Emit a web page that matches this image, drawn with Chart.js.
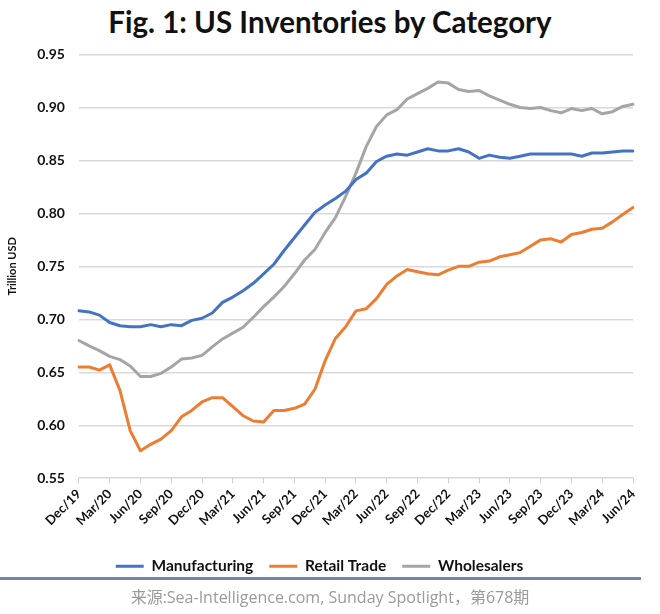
<!DOCTYPE html>
<html>
<head>
<meta charset="utf-8">
<script src="https://cdn.jsdelivr.net/npm/chart.js@4.4.1/dist/chart.umd.min.js"></script>
<style>
  body { margin: 0; background: #fff; width: 660px; height: 614px; overflow: hidden; position: relative; }
  .title { position: absolute; left: 0; top: 4px; width: 660px; text-align: center; color: #111;
           font: bold 29.5px/35.4px Lato, sans-serif; }
  .chart-container { position: absolute; left: 0; top: 0; width: 660px; height: 584px; }
  .rule { position: absolute; left: 0; top: 577px; width: 641px; height: 3px; background: #7188a0; }
  .source { position: absolute; left: 0; top: 584px; width: 660px; text-align: center;
            color: #9a9a9a; font: 16px "Open Sans", "Noto Sans CJK SC", sans-serif; }
</style>
</head>
<body>
<div class="title">Fig. 1: US Inventories by Category</div>
<div class="chart-container"><canvas id="chart"></canvas></div>
<div class="rule"></div>
<div class="source">来源:Sea-Intelligence.com, Sunday Spotlight，第678期</div>
<script>
// monthly, Dec/19 .. Jun/24 (trillion USD)
const months = [
  "Dec/19", "Jan/20", "Feb/20", "Mar/20", "Apr/20", "May/20", "Jun/20", "Jul/20", "Aug/20",
  "Sep/20", "Oct/20", "Nov/20", "Dec/20", "Jan/21", "Feb/21", "Mar/21", "Apr/21", "May/21",
  "Jun/21", "Jul/21", "Aug/21", "Sep/21", "Oct/21", "Nov/21", "Dec/21", "Jan/22", "Feb/22",
  "Mar/22", "Apr/22", "May/22", "Jun/22", "Jul/22", "Aug/22", "Sep/22", "Oct/22", "Nov/22",
  "Dec/22", "Jan/23", "Feb/23", "Mar/23", "Apr/23", "May/23", "Jun/23", "Jul/23", "Aug/23",
  "Sep/23", "Oct/23", "Nov/23", "Dec/23", "Jan/24", "Feb/24", "Mar/24", "Apr/24", "May/24",
  "Jun/24",
];

const manufacturing = [
  0.708, 0.707, 0.704, 0.697, 0.694, 0.693, 0.693, 0.695, 0.693, 0.695,
  0.694, 0.699, 0.701, 0.706, 0.716, 0.721, 0.727, 0.734, 0.743, 0.752,
  0.765, 0.777, 0.789, 0.801, 0.808, 0.814, 0.821, 0.832, 0.838, 0.849,
  0.854, 0.856, 0.855, 0.858, 0.861, 0.859, 0.859, 0.861, 0.858, 0.852,
  0.855, 0.853, 0.852, 0.854, 0.856, 0.856, 0.856, 0.856, 0.856, 0.854,
  0.857, 0.857, 0.858, 0.859, 0.859,
];

const retailTrade = [
  0.655, 0.655, 0.652, 0.657, 0.633, 0.595, 0.576, 0.582, 0.587, 0.595,
  0.608, 0.614, 0.622, 0.626, 0.626, 0.6175, 0.609, 0.604, 0.603, 0.614,
  0.614, 0.616, 0.620, 0.634, 0.661, 0.682, 0.693, 0.708, 0.710, 0.7195,
  0.733, 0.741, 0.747, 0.745, 0.743, 0.742, 0.7465, 0.750, 0.750, 0.754,
  0.755, 0.759, 0.761, 0.763, 0.769, 0.775, 0.776, 0.773, 0.780, 0.782,
  0.785, 0.786, 0.792, 0.799, 0.8055,
];

const wholesalers = [
  0.680, 0.675, 0.6705, 0.665, 0.662, 0.656, 0.646, 0.646, 0.649, 0.655,
  0.6625, 0.6635, 0.666, 0.674, 0.6815, 0.687, 0.6925, 0.702, 0.712, 0.721,
  0.731, 0.743, 0.756, 0.766, 0.782, 0.796, 0.816, 0.838, 0.863, 0.882,
  0.893, 0.898, 0.908, 0.913, 0.918, 0.924, 0.923, 0.917, 0.915, 0.916,
  0.911, 0.907, 0.903, 0.900, 0.899, 0.900, 0.897, 0.895, 0.899, 0.897,
  0.899, 0.894, 0.896, 0.901, 0.903,
];

const yTicks = [0.55, 0.60, 0.65, 0.70, 0.75, 0.80, 0.85, 0.90, 0.95];

const font = "Lato";

function series(label, data, color) {
  return {
    label: label,
    data: data,
    borderColor: color,
    backgroundColor: color,
    borderWidth: 3,
    pointRadius: 0,
    tension: 0,
    borderJoinStyle: "round",
    borderCapStyle: "round",
  };
}

const ctx = document.getElementById("chart").getContext("2d");
new Chart(ctx, {
  type: "line",
  data: {
    labels: months,
    datasets: [
      series("Manufacturing", manufacturing, "#4472C4"),
      series("Retail Trade", retailTrade, "#ED7D31"),
      series("Wholesalers", wholesalers, "#A5A5A5"),
    ],
  },
  options: {
    responsive: true,
    maintainAspectRatio: false,
    animation: false,
    // title is the html block above; leave its room here
    layout: { padding: { left: 6, right: 27, top: 54.5, bottom: 0 } },
    plugins: {
      title: { display: false },
      legend: {
        position: "bottom",
        labels: {
          usePointStyle: true,
          pointStyle: "line",
          pointStyleWidth: 28,
          color: "#111",
          font: { family: font, size: 15.5, weight: "bold" },
          padding: 16,
        },
      },
      tooltip: { enabled: false },
    },
    scales: {
      x: {
        offset: false,
        border: { display: false },
        grid: {
          drawOnChartArea: false,
          tickLength: 5,
          color: (c) => (c.index % 3 === 0 ? "#cfcfcf" : "rgba(0,0,0,0)"),
        },
        ticks: {
          autoSkip: false,
          maxRotation: 45,
          minRotation: 45,
          padding: 3,
          color: "#111",
          font: { family: font, size: 13, weight: "bold" },
          callback: (v, i) => (i % 3 === 0 ? months[i] : ""),
        },
        afterFit: (axis) => {
          axis.height += 11;
        },
      },
      y: {
        min: yTicks[0],
        max: yTicks[yTicks.length - 1],
        afterBuildTicks: (axis) => {
          axis.ticks = yTicks.map((v) => ({ value: v }));
        },
        border: { display: false },
        grid: { color: "#d9d9d9", lineWidth: 1.5, drawTicks: false },
        ticks: {
          padding: 14,
          color: "#111",
          font: { family: font, size: 14, weight: "bold" },
          callback: (v) => Number(v).toFixed(2),
        },
        title: {
          display: true,
          text: "Trillion USD",
          color: "#111",
          font: { family: font, size: 11, weight: "bold" },
          padding: { top: 0, bottom: 4 },
        },
      },
    },
  },
});
</script>
</body>
</html>
